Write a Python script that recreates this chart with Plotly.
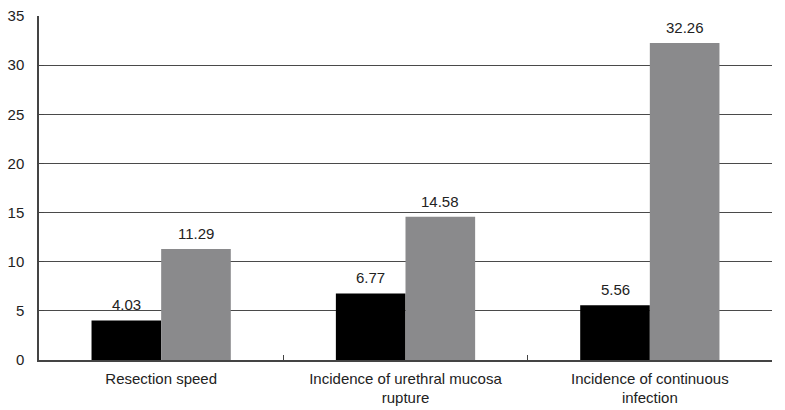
import plotly.graph_objects as go

categories = ["Resection speed", "Incidence of urethral mucosa<br>rupture", "Incidence of continuous<br>infection"]
series_a = [4.03, 6.77, 5.56]
series_b = [11.29, 14.58, 32.26]
y_ticks = [0, 5, 10, 15, 20, 25, 30, 35]
grid_ticks = [5, 10, 15, 20, 25, 30]

font = dict(family="Liberation Sans, Arial, sans-serif", size=15, color="#222222")

fig = go.Figure()
fig.add_trace(go.Bar(x=categories, y=series_a, marker=dict(color="#000000", line=dict(width=0)),
                     offsetgroup="a", cliponaxis=False))
fig.add_trace(go.Bar(x=categories, y=series_b, marker=dict(color="#8a8a8c", line=dict(width=0)),
                     offsetgroup="b", cliponaxis=False))
fig.add_trace(go.Scatter(x=categories, y=[None]*3, yaxis="y2", showlegend=False, hoverinfo="skip"))

# value labels above bars (bars occupy half of the group each)
group_frac = 1 - 0.43
for i, (a, b) in enumerate(zip(series_a, series_b)):
    for val, off in ((a, -group_frac / 4), (b, group_frac / 4)):
        fig.add_annotation(x=i + off, y=val, xref="x", yref="y", text=f"{val:.2f}",
                           showarrow=False, yanchor="bottom", yshift=5, font=font)

fig.update_layout(
    width=785, height=410,
    margin=dict(l=39, r=13, t=16, b=50),
    paper_bgcolor="white", plot_bgcolor="white",
    barmode="group", bargap=0.43, bargroupgap=0,
    showlegend=False,
    font=font,
    xaxis=dict(type="category", showline=True, linecolor="#444444", linewidth=1.5,
               ticks="inside", tickson="boundaries", ticklen=5, tickcolor="#444444",
               showgrid=False, tickfont=font, automargin=False, ticklabelstandoff=4),
    yaxis=dict(range=[0, 35], tickvals=y_ticks, showgrid=False, showline=True,
               linecolor="#444444", linewidth=1.5, ticks="inside", ticklen=5,
               tickcolor="#444444", tickfont=font, zeroline=False, ticklabelstandoff=10,
               automargin=False),
    yaxis2=dict(range=[0, 35], tickvals=grid_ticks, overlaying="y", showgrid=True,
                gridcolor="#4a4a4a", gridwidth=1, showticklabels=False, zeroline=False,
                layer="below traces", automargin=False),
)
fig.write_html("out.html", config={"displayModeBar": False},
               post_script="document.body.style.margin='0';")
